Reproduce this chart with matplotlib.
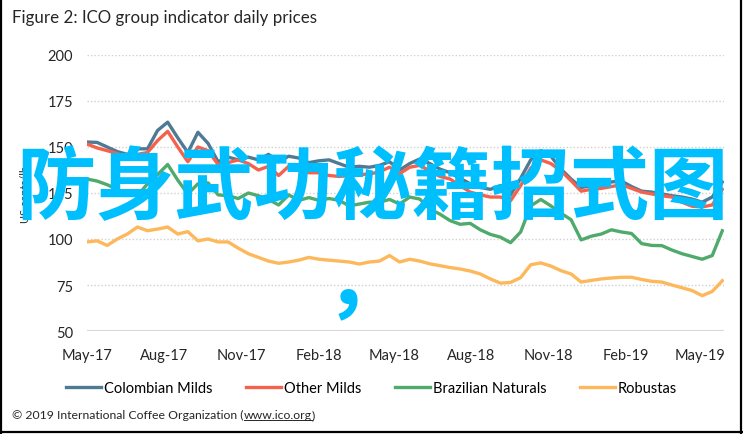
import matplotlib
matplotlib.use("Agg")
import matplotlib.pyplot as plt
import matplotlib.dates as mdates
from matplotlib.lines import Line2D
import pandas as pd

plt.rcParams['font.family'] = ['Lato', 'DejaVu Sans']

# one reading every 12 days, May 2017 - May 2019 (US cents/lb)
dates = pd.date_range('2017-05-01', periods=64, freq='12D')

colombian = [152.7, 152.5, 150.0, 147.5, 146.0, 149.0, 149.0, 159.0, 163.5, 155.0,
             147.0, 158.0, 152.0, 142.0, 144.5, 143.0, 144.5, 143.0, 146.0, 142.0,
             145.0, 144.0, 141.5, 142.5, 143.0, 141.0, 139.0, 139.5, 139.0, 140.0,
             142.0, 137.5, 141.0, 143.5, 141.0, 138.0, 136.0, 133.0, 130.0, 128.0,
             127.0, 129.0, 124.0, 133.0, 143.0, 148.0, 145.0, 138.0, 132.6, 128.0,
             129.0, 129.5, 131.0, 131.5, 128.5, 126.0, 125.5, 124.5, 123.5, 122.8,
             121.7, 120.0, 122.8, 131.0]
other = [151.6, 149.5, 148.0, 146.5, 144.0, 146.0, 147.0, 153.5, 158.5, 150.0,
         142.0, 150.0, 148.0, 140.5, 141.5, 143.0, 141.0, 137.5, 139.5, 134.5,
         139.5, 138.0, 136.0, 136.0, 134.5, 134.0, 134.4, 135.0, 135.3, 136.5,
         139.0, 135.5, 139.0, 140.0, 137.0, 134.0, 132.6, 129.0, 125.5, 124.0,
         122.8, 122.8, 120.8, 129.0, 138.5, 143.0, 141.0, 137.0, 131.7, 126.0,
         127.0, 127.5, 128.5, 129.5, 127.5, 125.5, 124.5, 123.5, 122.8, 120.0,
         117.8, 117.4, 118.5, 127.0]
brazilian = [132.6, 131.5, 129.5, 127.0, 124.5, 123.5, 130.0, 135.0, 140.5, 132.0,
             124.5, 130.0, 130.5, 124.0, 123.5, 122.0, 125.0, 123.5, 121.5, 118.5,
             124.0, 121.0, 122.5, 121.0, 122.0, 121.0, 118.0, 119.0, 120.0, 120.0,
             121.5, 119.0, 122.8, 121.7, 116.3, 113.5, 110.0, 108.0, 108.5, 105.0,
             102.5, 101.0, 98.0, 103.8, 118.0, 121.5, 118.0, 114.0, 110.5, 99.5,
             101.5, 102.7, 105.0, 103.8, 103.0, 97.5, 96.5, 96.4, 94.0, 92.0,
             90.5, 89.0, 91.0, 104.5]
robustas = [98.4, 99.0, 96.5, 100.0, 102.7, 106.5, 104.5, 105.4, 106.5, 102.7,
            104.0, 99.0, 100.0, 98.4, 98.4, 95.0, 92.0, 90.0, 88.0, 86.8,
            87.5, 88.5, 90.0, 89.0, 88.5, 88.0, 87.5, 86.4, 87.5, 88.0,
            91.0, 87.5, 89.0, 88.0, 86.5, 85.5, 84.5, 83.7, 82.6, 81.0,
            78.3, 76.0, 76.4, 79.0, 86.0, 87.0, 85.3, 82.8, 81.0, 76.6,
            77.5, 78.3, 78.8, 79.2, 79.2, 78.0, 77.0, 76.6, 75.0, 73.5,
            72.0, 69.2, 71.5, 77.3]

series = [("Colombian Milds", colombian, '#4E7A94'),
          ("Other Milds", other, '#F4624D'),
          ("Brazilian Naturals", brazilian, '#4FAA6C'),
          ("Robustas", robustas, '#FDB85C')]

fig = plt.figure(figsize=(7.43, 4.35), dpi=100)
ax = fig.add_axes([87 / 743, (435 - 332) / 435, (724 - 87) / 743, 276 / 435])

for name, vals, col in series:
    ax.plot(dates, vals, color=col, linewidth=2.4, label=name)

ax.set_ylim(50, 200)
ax.set_yticks([50, 75, 100, 125, 150, 175, 200])
ax.set_xlim(pd.Timestamp('2017-05-01'), pd.Timestamp('2019-05-29'))
ax.set_xticks(pd.date_range('2017-05-01', '2019-05-01', freq='3MS'))
ax.xaxis.set_major_formatter(mdates.DateFormatter('%b-%y'))

for spine in ax.spines.values():
    spine.set_visible(False)
ax.grid(axis='y', color='#D0D0D0', linestyle=(0, (1, 1.5)), linewidth=1)
ax.axhline(50, color='#D9D9D9', linewidth=2.2)
ax.tick_params(length=0, labelsize=10.5, colors='#262626')
ax.tick_params(axis='x', pad=12)
ax.tick_params(axis='y', pad=10)
ax.set_ylabel('US cents/lb', fontsize=8, color='#262626', labelpad=12)

fig.text(12 / 743, 1 - 18 / 435, 'Figure 2: ICO group indicator daily prices',
         fontsize=12.2, color='#262626', va='center')

fig.legend(loc='center', bbox_to_anchor=(0.5, 1 - 389 / 435), ncol=4, frameon=False,
           fontsize=10.5, handlelength=2.4, handletextpad=0.2, columnspacing=2.3)

fig.text(12 / 743, 1 - 419 / 435, '\u00a9 2019 International Coffee Organization (',
         fontsize=8.8, color='#262626', va='center')
t2 = fig.text(0, 0, 'www.ico.org', fontsize=8.8, color='#262626')
t3 = fig.text(0, 0, ')', fontsize=8.8, color='#262626')

# overlaid caption
fig.text(372 / 743, 1 - 189 / 435, '防身武功秘籍招式图', fontsize=57, color='#00BFFF',
         family=['Noto Sans CJK SC'], weight='bold', ha='center', va='center')
fig.text(366 / 743, 1 - 284 / 435, '，', fontsize=60, color='#00BFFF',
         family=['Noto Sans CJK SC'], weight='bold', ha='center', va='center')

# frame
for xs, ys in [([0.002, 0.002], [0, 1]), ([0.997, 0.997], [0, 1]), ([0, 1], [0.004, 0.004])]:
    fig.add_artist(Line2D(xs, ys, color='black', linewidth=1.6, transform=fig.transFigure))

# place the link text and its underline right after the first text
fig.canvas.draw()
r = fig.canvas.get_renderer()
inv = fig.transFigure.inverted()
t1 = fig.texts[1]
t1.set_va('baseline')
bb0 = t1.get_window_extent(r)
t1.set_position(inv.transform((bb0.x0, bb0.y0 + 2)))
fig.canvas.draw()
bb1 = t1.get_window_extent(r)
base = t1.get_transform().transform(t1.get_position())[1]
for t in (t2, t3):
    t.set_va('baseline')
t2.set_position(inv.transform((bb1.x1, base)))
fig.canvas.draw()
bb2 = t2.get_window_extent(r)
t3.set_position(inv.transform((bb2.x1, base)))
uy = inv.transform((0, base - 2))[1]
fig.add_artist(Line2D(inv.transform([(bb2.x0, 0), (bb2.x1, 0)])[:, 0], [uy, uy],
                      color='#262626', linewidth=0.7, transform=fig.transFigure))

fig.savefig('out.png', dpi=100)
